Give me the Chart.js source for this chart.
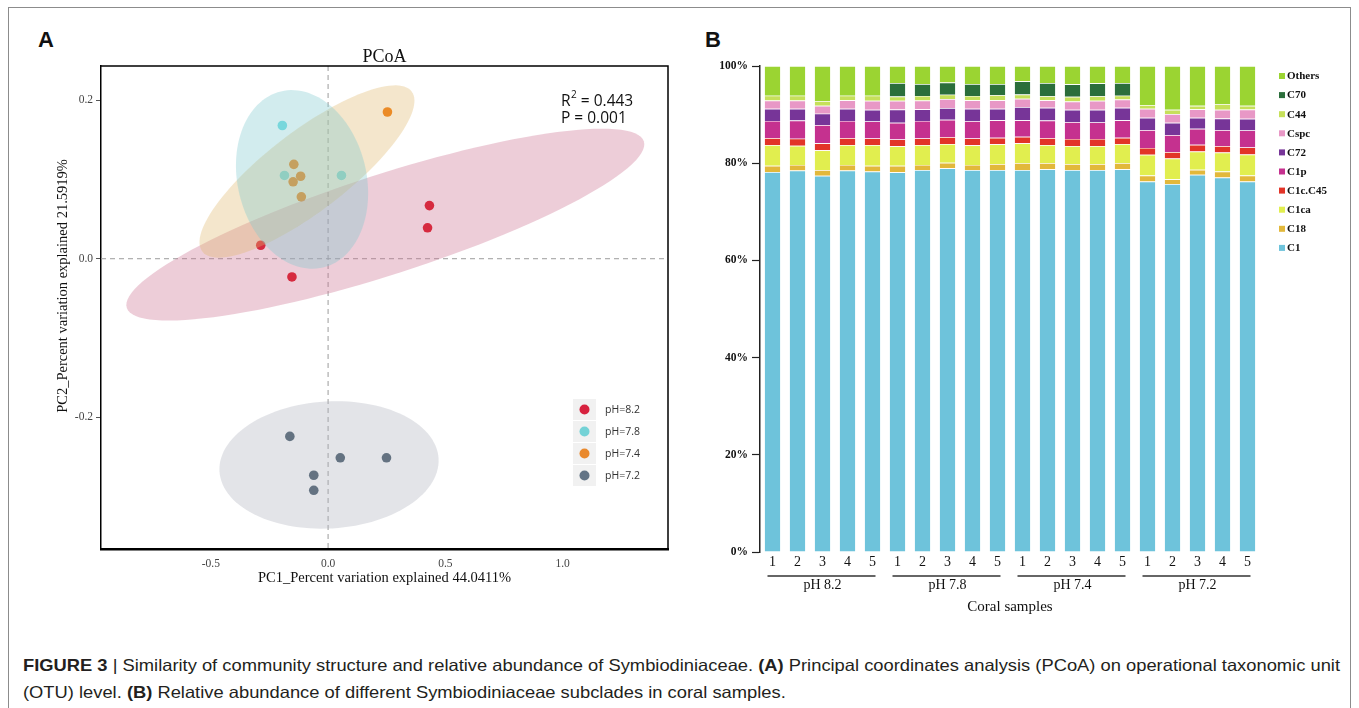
<!DOCTYPE html>
<html>
<head>
<meta charset="utf-8">
<script src="https://cdn.jsdelivr.net/npm/chart.js@4.4.1/dist/chart.umd.min.js"></script>
<style>
  html, body { margin: 0; padding: 0; background: #fff; }
  body { width: 1359px; height: 708px; position: relative; overflow: hidden; }
  #frame { position: absolute; left: 8px; top: 7px; width: 1343px; height: 760px; border: 1px solid #8c8c8c; box-sizing: border-box; }
  .letter { position: absolute; top: 29px; font: bold 22px/22px "Liberation Sans", Arial, sans-serif; color: #111; }
  .wrap { position: absolute; top: 0; height: 620px; }
  .caption { position: absolute; left: 23px; white-space: nowrap; font: 16.5px/20px "Liberation Sans", Arial, sans-serif; color: #231f20; transform-origin: 0 50%; }
</style>
</head>
<body>
<div id="frame"></div>
<div class="letter" style="left:38px">A</div>
<div class="letter" style="left:705px">B</div>
<div class="wrap" style="left:0;width:680px"><canvas id="pcoa" width="680" height="620"></canvas></div>
<div class="wrap" style="left:680px;width:679px"><canvas id="abund" width="679" height="620"></canvas></div>
<div id="cap1" class="caption" style="top:655px"><b>FIGURE 3</b> | Similarity of community structure and relative abundance of Symbiodiniaceae. <b>(A)</b> Principal coordinates analysis (PCoA) on operational taxonomic unit</div>
<div id="cap2" class="caption" style="top:682px">(OTU) level. <b>(B)</b> Relative abundance of different Symbiodiniaceae subclades in coral samples.</div>

<script>
// ---- panel A: PCoA scores ----
const groupLabels = ['pH=8.2', 'pH=7.8', 'pH=7.4', 'pH=7.2'];
const ph82PC1 = [0.432, 0.424, -0.287, -0.154];
const ph82PC2 = [0.067, 0.039, 0.017, -0.023];
const ph78PC1 = [-0.195, -0.186, 0.057];
const ph78PC2 = [0.168, 0.105, 0.105];
const ph74PC1 = [0.253, -0.146, -0.117, -0.149, -0.114];
const ph74PC2 = [0.185, 0.119, 0.104, 0.097, 0.078];
const ph72PC1 = [-0.163, -0.061, -0.061, 0.052, 0.249];
const ph72PC2 = [-0.224, -0.273, -0.292, -0.251, -0.251];

// confidence ellipses per group: centre and the two semi-axis vectors (data units)
const ellipseCentreX = [0.244, -0.111, -0.090, 0.004];
const ellipseCentreY = [0.043, 0.100, 0.110, -0.260];
const ellipseMajorX = [1.102, -0.090, 0.446, 0.467];
const ellipseMajorY = [0.105, 0.111, 0.101, 0.008];
const ellipseMinorX = [0.066, 0.267, 0.105, 0.015];
const ellipseMinorY = [-0.060, 0.019, -0.040, -0.080];

const statLines = ['R', '2', ' = 0.443', 'P = 0.001'];

// ---- panel B: relative abundance (%) per sample ----
const sampleNumbers = [1, 2, 3, 4, 5, 1, 2, 3, 4, 5, 1, 2, 3, 4, 5, 1, 2, 3, 4, 5];
const sampleGroup = [0, 0, 0, 0, 0, 1, 1, 1, 1, 1, 2, 2, 2, 2, 2, 3, 3, 3, 3, 3];
const groupNames = ['pH 8.2', 'pH 7.8', 'pH 7.4', 'pH 7.2'];
const cladeNames = ['C1', 'C18', 'C1ca', 'C1c.C45', 'C1p', 'C72', 'Cspc', 'C44', 'C70', 'Others'];
const c1 = [78.2, 78.5, 77.4, 78.5, 78.3, 78.15, 78.6, 78.95, 78.6, 78.6, 78.6, 78.75, 78.6, 78.6, 78.75, 76.25, 75.7, 77.6, 77.05, 76.25];
const c18 = [1.25, 1.15, 1.2, 1.15, 1.15, 1.3, 1.05, 1.15, 1.05, 1.25, 1.45, 1.3, 1.25, 1.25, 1.3, 1.2, 1.0, 1.05, 1.25, 1.2];
const c1ca = [4.3, 3.95, 4.05, 4.1, 4.3, 4.05, 4.1, 3.85, 4.05, 4.05, 4.05, 3.7, 3.7, 3.7, 3.9, 4.3, 4.25, 3.75, 3.9, 4.35];
const c1cC45 = [1.45, 1.45, 1.45, 1.45, 1.35, 1.4, 1.35, 1.45, 1.4, 1.35, 1.35, 1.45, 1.45, 1.45, 1.3, 1.4, 1.35, 1.4, 1.35, 1.45];
const c1p = [3.5, 3.75, 3.75, 3.5, 3.5, 3.4, 3.6, 3.55, 3.55, 3.6, 3.4, 3.6, 3.45, 3.4, 3.6, 3.65, 3.5, 3.3, 3.25, 3.5];
const c72 = [2.5, 2.4, 2.35, 2.5, 2.4, 2.75, 2.4, 2.4, 2.55, 2.35, 2.7, 2.6, 2.55, 2.6, 2.55, 2.55, 2.5, 2.25, 2.4, 2.4];
const cspc = [1.7, 1.7, 1.6, 1.75, 1.85, 1.8, 1.8, 1.85, 1.75, 1.75, 1.7, 1.55, 1.7, 1.85, 1.7, 1.85, 1.8, 1.75, 1.8, 1.9];
const c44 = [1.0, 1.0, 1.0, 0.95, 1.05, 0.85, 0.95, 0.9, 0.9, 1.05, 0.9, 0.85, 0.95, 0.95, 0.8, 0.75, 0.9, 0.7, 1.15, 0.75];
const c70 = [0, 0, 0, 0, 0, 2.8, 2.45, 2.5, 2.45, 2.3, 2.7, 2.7, 2.6, 2.65, 2.6, 0, 0, 0, 0, 0];
const others = [6.1, 6.1, 7.2, 6.1, 6.1, 3.5, 3.7, 3.4, 3.7, 3.7, 3.15, 3.5, 3.75, 3.55, 3.5, 8.05, 9.0, 8.2, 7.85, 8.2];

// ---- styles ----
const SERIF = '"Liberation Serif", "Times New Roman", serif';
const SANS = '"Open Sans", "Liberation Sans", sans-serif';
const pointColours = ['#DC0614', '#75DFE4', '#F27400', '#3C5162'];   // under the translucent ellipses
const legendColours = ['#D7223F', '#74D2D6', '#E9892D', '#637486'];
const ellipseFills = ['rgba(204,112,143,0.35)', 'rgba(126,200,206,0.35)', 'rgba(223,184,110,0.35)', 'rgba(175,178,190,0.35)'];
const ellipseOrder = [0, 2, 1, 3];
const cladeColours = ['#6EC3DB', '#E2B83B', '#E1EE4F', '#E23428', '#C5318F', '#773598', '#E898C6', '#C6E05A', '#2B6E3B', '#9BD432'];

Chart.defaults.font.family = SERIF;

const pc1Sets = [ph82PC1, ph78PC1, ph74PC1, ph72PC1];
const pc2Sets = [ph82PC2, ph78PC2, ph74PC2, ph72PC2];

const pcoaDecor = {
    id: 'pcoaDecor',
    beforeDatasetsDraw(chart) {
        // dashed lines through the origin
        const { ctx, chartArea: a, scales: { x, y } } = chart;
        ctx.save();
        ctx.setLineDash([5, 4]);
        ctx.strokeStyle = '#9c9c9c';
        ctx.lineWidth = 1;
        const x0 = x.getPixelForValue(0), y0 = y.getPixelForValue(0);
        ctx.beginPath();
        ctx.moveTo(x0, a.top); ctx.lineTo(x0, a.bottom);
        ctx.moveTo(a.left, y0); ctx.lineTo(a.right, y0);
        ctx.stroke();
        ctx.restore();
    },
    afterDatasetsDraw(chart) {
        const { ctx, chartArea: a, scales: { x, y } } = chart;
        ctx.save();
        ctx.beginPath();
        ctx.rect(a.left, a.top, a.right - a.left, a.bottom - a.top);
        ctx.clip();
        ellipseOrder.forEach(g => {
            ctx.beginPath();
            for (let k = 0; k <= 120; k++) {
                const t = k / 120 * Math.PI * 2;
                const vx = ellipseCentreX[g] + Math.cos(t) * ellipseMajorX[g] + Math.sin(t) * ellipseMinorX[g];
                const vy = ellipseCentreY[g] + Math.cos(t) * ellipseMajorY[g] + Math.sin(t) * ellipseMinorY[g];
                const px = x.getPixelForValue(vx), py = y.getPixelForValue(vy);
                if (k === 0) ctx.moveTo(px, py); else ctx.lineTo(px, py);
            }
            ctx.closePath();
            ctx.fillStyle = ellipseFills[g];
            ctx.fill();
        });
        ctx.restore();
    },
    afterDraw(chart) {
        const { ctx, chartArea: a } = chart;
        ctx.save();
        // top and right sides of the panel box
        ctx.strokeStyle = '#000';
        ctx.lineWidth = 1.5;
        ctx.beginPath();
        ctx.moveTo(a.left, a.top); ctx.lineTo(a.right, a.top); ctx.lineTo(a.right, a.bottom);
        ctx.stroke();

        ctx.fillStyle = '#111';
        ctx.textAlign = 'center';
        ctx.textBaseline = 'alphabetic';
        ctx.font = '18px ' + SERIF;
        ctx.fillText('PCoA', (a.left + a.right) / 2, a.top - 4);

        // y title sits a bit above the panel centre in the original
        ctx.save();
        ctx.translate(63, 286);
        ctx.rotate(-Math.PI / 2);
        ctx.textBaseline = 'middle';
        ctx.font = '14.5px ' + SERIF;
        ctx.fillText('PC2_Percent variation explained 21.5919%', 0, 0);
        ctx.restore();

        // R2 / P annotation
        ctx.textAlign = 'left';
        ctx.fillStyle = '#111';
        let tx = a.right - 107;
        const base1 = a.top + 40;
        ctx.font = '15.5px ' + SANS;
        ctx.fillText(statLines[0], tx, base1);
        tx += ctx.measureText(statLines[0]).width + 0.5;
        ctx.font = '10px ' + SANS;
        ctx.fillText(statLines[1], tx, base1 - 8);
        tx += ctx.measureText(statLines[1]).width;
        ctx.font = '15.5px ' + SANS;
        ctx.fillText(statLines[2], tx, base1);
        ctx.fillText(statLines[3], a.right - 107, base1 + 16.5);

        // legend
        const lx = a.right - 95, ly = a.top + 333;
        groupLabels.forEach((g, i) => {
            const top = ly + i * 22;
            ctx.fillStyle = '#f1f1f1';
            ctx.fillRect(lx, top, 23, 21);
            ctx.beginPath();
            ctx.arc(lx + 11.5, top + 10.5, 5, 0, Math.PI * 2);
            ctx.fillStyle = legendColours[i];
            ctx.fill();
            ctx.fillStyle = '#333';
            ctx.font = '10.5px ' + SANS;
            ctx.textBaseline = 'middle';
            ctx.fillText(g, lx + 32, top + 11);
        });
        ctx.restore();
    }
};

new Chart(document.getElementById('pcoa'), {
    type: 'scatter',
    data: {
        datasets: groupLabels.map((g, i) => ({
            label: g,
            data: pc1Sets[i].map((v, j) => ({ x: v, y: pc2Sets[i][j] })),
            backgroundColor: pointColours[i],
            borderWidth: 0,
            pointRadius: 4.8
        }))
    },
    options: {
        responsive: false,
        animation: false,
        events: [],
        layout: { padding: { left: 0, top: 66, right: 12, bottom: 29 } },
        plugins: { legend: { display: false }, tooltip: { enabled: false } },
        scales: {
            x: {
                type: 'linear', min: -0.968, max: 1.449,
                afterFit: s => { s.height = 42; },
                border: { display: true, color: '#000', width: 2.5 },
                grid: { drawOnChartArea: false, drawTicks: false },
                ticks: { stepSize: 0.5, includeBounds: false, padding: 8, color: '#444', font: { size: 11.5 }, callback: v => v.toFixed(1) },
                title: { display: true, text: 'PC1_Percent variation explained 44.0411%', color: '#111', font: { size: 14.5 }, padding: { top: 0, bottom: 4 } }
            },
            y: {
                type: 'linear', min: -0.366, max: 0.243,
                afterFit: s => { s.width = 101; },
                border: { display: true, color: '#000', width: 1.5 },
                grid: { drawOnChartArea: false, tickLength: 5, tickColor: '#555', tickWidth: 1 },
                ticks: { stepSize: 0.2, includeBounds: false, padding: 3, color: '#444', font: { size: 11.5 }, callback: v => v.toFixed(1) }
            }
        }
    },
    plugins: [pcoaDecor]
});

// ---- panel B ----
const cladeValues = [c1, c18, c1ca, c1cC45, c1p, c72, cspc, c44, c70, others];

const abundDecor = {
    id: 'abundDecor',
    afterDraw(chart) {
        const { ctx, chartArea: a, scales: { x } } = chart;
        ctx.save();
        // underline each pH group below the sample numbers
        ctx.strokeStyle = '#333';
        ctx.lineWidth = 1.6;
        groupNames.forEach((g, gi) => {
            const first = sampleGroup.indexOf(gi), last = sampleGroup.lastIndexOf(gi);
            ctx.beginPath();
            ctx.moveTo(x.getPixelForValue(first) - 5, a.bottom + 24);
            ctx.lineTo(x.getPixelForValue(last) + 3, a.bottom + 24);
            ctx.stroke();
        });
        // legend, top entry = last stacked series
        ctx.textAlign = 'left';
        ctx.textBaseline = 'middle';
        ctx.font = 'bold 11px ' + SERIF;
        for (let k = 0; k < cladeNames.length; k++) {
            const i = cladeNames.length - 1 - k;
            const cy = a.top + 10 + k * 19.1;
            ctx.fillStyle = cladeColours[i];
            ctx.fillRect(a.right + 19, cy - 3, 6, 6);
            ctx.fillStyle = '#111';
            ctx.fillText(cladeNames[i], a.right + 27, cy + 0.5);
        }
        ctx.restore();
    }
};

new Chart(document.getElementById('abund'), {
    type: 'bar',
    data: {
        labels: sampleNumbers,
        datasets: cladeNames.map((n, i) => ({
            label: n,
            data: cladeValues[i],
            backgroundColor: cladeColours[i],
            borderColor: 'rgba(255,255,255,0.8)',
            borderWidth: { top: 0.7, left: 0, right: 0, bottom: 0 },
            borderSkipped: 'start',
            barPercentage: 0.78,
            categoryPercentage: 0.8
        }))
    },
    options: {
        responsive: false,
        animation: false,
        events: [],
        layout: { padding: { left: 0, top: 66, right: 99, bottom: 4 } },
        plugins: { legend: { display: false }, tooltip: { enabled: false } },
        scales: {
            x: {
                stacked: true,
                weight: 0,
                afterFit: s => { s.height = 22; },
                border: { display: false },
                grid: { display: false, drawTicks: false },
                ticks: { padding: 2, color: '#111', autoSkip: false, maxRotation: 0, font: { size: 14 } }
            },
            xGroup: {
                type: 'category',
                labels: groupNames,
                position: 'bottom',
                offset: true,
                weight: 1,
                afterFit: s => { s.height = 42; },
                border: { display: false },
                grid: { display: false, drawTicks: false },
                ticks: { padding: 3, color: '#111', maxRotation: 0, font: { size: 14 } },
                title: { display: true, text: 'Coral samples', color: '#111', font: { size: 15 }, padding: { top: 0, bottom: 0 } }
            },
            y: {
                stacked: true,
                min: 0, max: 100,
                afterFit: s => { s.width = 80; },
                border: { display: true, color: '#222', width: 1.5 },
                grid: { drawOnChartArea: false, tickLength: 8, tickColor: '#222', tickWidth: 1.2 },
                ticks: { stepSize: 20, padding: 4, color: '#111', font: { size: 11.5, weight: 'bold' }, callback: v => v + '%' }
            }
        }
    },
    plugins: [abundDecor]
});

// stretch the caption lines to the width they have in the figure
const cap1 = document.getElementById('cap1');
const cap2 = document.getElementById('cap2');
const k = 1317 / cap1.getBoundingClientRect().width;
cap1.style.transform = `scaleX(${k})`;
cap2.style.transform = `scaleX(${k})`;
</script>
</body>
</html>
